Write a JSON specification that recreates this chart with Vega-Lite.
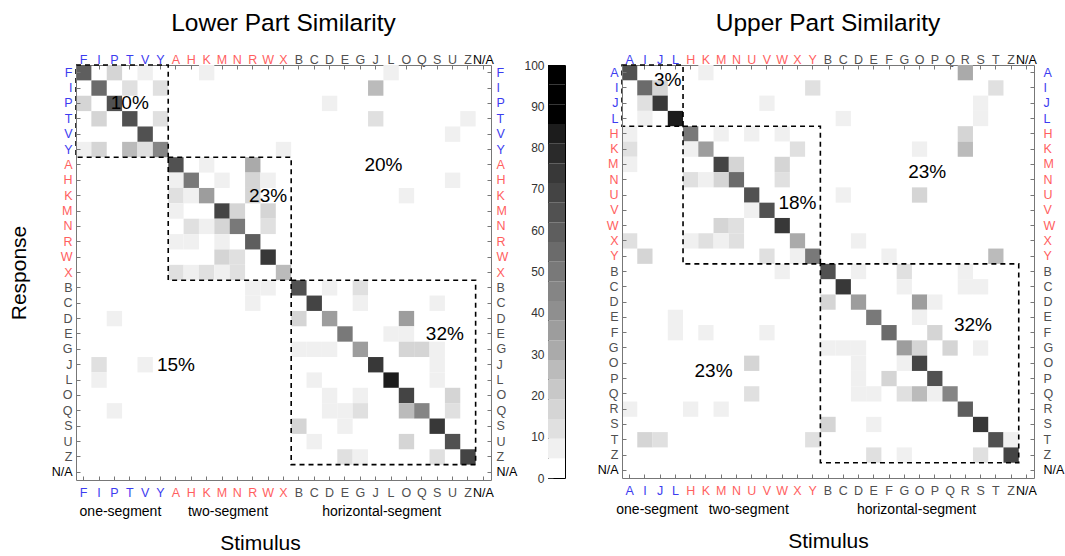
{
"$schema": "https://vega.github.io/schema/vega-lite/v6.json",
"padding": {"left": 8, "top": 10, "right": 4, "bottom": 0},
"spacing": 57,
"bounds": "flush",
"config": {
  "font": "Liberation Sans",
  "view": {"stroke": null},
  "axis": {"domainColor": "#777", "tickColor": "#777", "tickSize": -4, "labelFontSize": 12.5, "labelPadding": 9, "labelAngle": 0, "labelOverlap": false, "grid": false, "titleFontWeight": "normal", "titleColor": "#000", "titleFontSize": 21, "labelFont": "Liberation Sans", "titleFont": "Liberation Sans"},
  "title": {"fontSize": 24.5, "fontWeight": "normal", "color": "#000", "offset": 17},
  "text": {"font": "Liberation Sans"}
},
"datasets": {
"lower": [
{"s":"F","r":"F","v":60},{"s":"P","r":"F","v":17},{"s":"V","r":"F","v":7},{"s":"K","r":"F","v":7},{"s":"L","r":"F","v":7},
{"s":"I","r":"I","v":57},{"s":"T","r":"I","v":12},{"s":"Y","r":"I","v":12},{"s":"J","r":"I","v":24},
{"s":"F","r":"P","v":17},{"s":"P","r":"P","v":64},{"s":"D","r":"P","v":7},
{"s":"I","r":"T","v":17},{"s":"T","r":"T","v":64},{"s":"Y","r":"T","v":10},{"s":"J","r":"T","v":12},{"s":"Z","r":"T","v":7},
{"s":"V","r":"V","v":62},{"s":"U","r":"V","v":7},
{"s":"F","r":"Y","v":7},{"s":"I","r":"Y","v":17},{"s":"T","r":"Y","v":24},{"s":"V","r":"Y","v":12},{"s":"Y","r":"Y","v":45},{"s":"X","r":"Y","v":7},
{"s":"A","r":"A","v":62},{"s":"K","r":"A","v":7},{"s":"R","r":"A","v":30},
{"s":"A","r":"H","v":7},{"s":"H","r":"H","v":48},{"s":"M","r":"H","v":7},{"s":"R","r":"H","v":17},{"s":"W","r":"H","v":7},{"s":"U","r":"H","v":7},
{"s":"A","r":"K","v":12},{"s":"H","r":"K","v":7},{"s":"K","r":"K","v":38},{"s":"R","r":"K","v":17},{"s":"O","r":"K","v":7},
{"s":"A","r":"M","v":7},{"s":"M","r":"M","v":68},{"s":"N","r":"M","v":17},{"s":"W","r":"M","v":17},
{"s":"H","r":"N","v":12},{"s":"K","r":"N","v":7},{"s":"M","r":"N","v":17},{"s":"N","r":"N","v":52},{"s":"W","r":"N","v":12},
{"s":"A","r":"R","v":7},{"s":"H","r":"R","v":7},{"s":"M","r":"R","v":7},{"s":"R","r":"R","v":58},
{"s":"M","r":"W","v":17},{"s":"N","r":"W","v":10},{"s":"W","r":"W","v":74},
{"s":"A","r":"X","v":12},{"s":"H","r":"X","v":7},{"s":"K","r":"X","v":12},{"s":"M","r":"X","v":7},{"s":"N","r":"X","v":12},{"s":"X","r":"X","v":27},
{"s":"B","r":"B","v":62},{"s":"D","r":"B","v":7},{"s":"G","r":"B","v":12},{"s":"R","r":"B","v":7},{"s":"W","r":"B","v":7},
{"s":"C","r":"C","v":68},{"s":"G","r":"C","v":7},{"s":"S","r":"C","v":7},{"s":"R","r":"C","v":7},
{"s":"B","r":"D","v":17},{"s":"D","r":"D","v":35},{"s":"O","r":"D","v":38},{"s":"P","r":"D","v":7},
{"s":"E","r":"E","v":50},{"s":"L","r":"E","v":7},{"s":"O","r":"E","v":7},
{"s":"B","r":"G","v":7},{"s":"C","r":"G","v":7},{"s":"D","r":"G","v":7},{"s":"G","r":"G","v":38},{"s":"O","r":"G","v":17},{"s":"Q","r":"G","v":17},{"s":"S","r":"G","v":7},
{"s":"J","r":"J","v":74},{"s":"S","r":"J","v":7},{"s":"I","r":"J","v":12},{"s":"V","r":"J","v":7},
{"s":"C","r":"L","v":7},{"s":"L","r":"L","v":85},{"s":"S","r":"L","v":7},{"s":"I","r":"L","v":7},
{"s":"D","r":"O","v":7},{"s":"G","r":"O","v":7},{"s":"O","r":"O","v":68},{"s":"U","r":"O","v":17},
{"s":"D","r":"Q","v":7},{"s":"E","r":"Q","v":7},{"s":"G","r":"Q","v":12},{"s":"O","r":"Q","v":24},{"s":"Q","r":"Q","v":45},{"s":"U","r":"Q","v":12},{"s":"P","r":"Q","v":7},
{"s":"B","r":"S","v":17},{"s":"E","r":"S","v":7},{"s":"S","r":"S","v":74},
{"s":"C","r":"U","v":7},{"s":"O","r":"U","v":17},{"s":"U","r":"U","v":62},
{"s":"E","r":"Z","v":12},{"s":"G","r":"Z","v":7},{"s":"S","r":"Z","v":12},{"s":"Z","r":"Z","v":68}
],
"upper": [
{"s":"A","r":"A","v":62},{"s":"K","r":"A","v":7},{"s":"R","r":"A","v":30},
{"s":"I","r":"I","v":57},{"s":"J","r":"I","v":17},{"s":"Y","r":"I","v":12},{"s":"T","r":"I","v":12},
{"s":"I","r":"J","v":12},{"s":"J","r":"J","v":74},{"s":"V","r":"J","v":7},{"s":"S","r":"J","v":7},
{"s":"I","r":"L","v":7},{"s":"L","r":"L","v":85},{"s":"C","r":"L","v":7},{"s":"S","r":"L","v":7},
{"s":"A","r":"H","v":7},{"s":"H","r":"H","v":50},{"s":"M","r":"H","v":7},{"s":"U","r":"H","v":7},{"s":"W","r":"H","v":7},{"s":"R","r":"H","v":17},
{"s":"A","r":"K","v":12},{"s":"H","r":"K","v":7},{"s":"K","r":"K","v":38},{"s":"X","r":"K","v":12},{"s":"O","r":"K","v":7},{"s":"R","r":"K","v":24},
{"s":"A","r":"M","v":7},{"s":"M","r":"M","v":68},{"s":"N","r":"M","v":17},{"s":"W","r":"M","v":17},
{"s":"H","r":"N","v":12},{"s":"K","r":"N","v":7},{"s":"M","r":"N","v":17},{"s":"N","r":"N","v":55},{"s":"W","r":"N","v":12},
{"s":"U","r":"U","v":62},{"s":"C","r":"U","v":7},{"s":"O","r":"U","v":17},
{"s":"U","r":"V","v":7},{"s":"V","r":"V","v":62},
{"s":"M","r":"W","v":17},{"s":"N","r":"W","v":12},{"s":"W","r":"W","v":74},
{"s":"A","r":"X","v":12},{"s":"H","r":"X","v":7},{"s":"K","r":"X","v":12},{"s":"M","r":"X","v":7},{"s":"N","r":"X","v":12},{"s":"X","r":"X","v":30},{"s":"D","r":"X","v":7},
{"s":"I","r":"Y","v":17},{"s":"V","r":"Y","v":12},{"s":"X","r":"Y","v":7},{"s":"Y","r":"Y","v":50},{"s":"F","r":"Y","v":7},{"s":"T","r":"Y","v":24},
{"s":"B","r":"B","v":62},{"s":"D","r":"B","v":7},{"s":"G","r":"B","v":12},{"s":"R","r":"B","v":7},{"s":"W","r":"B","v":7},
{"s":"C","r":"C","v":74},{"s":"G","r":"C","v":7},{"s":"R","r":"C","v":7},{"s":"S","r":"C","v":7},
{"s":"B","r":"D","v":17},{"s":"D","r":"D","v":38},{"s":"O","r":"D","v":38},{"s":"P","r":"D","v":7},
{"s":"E","r":"E","v":50},{"s":"O","r":"E","v":7},{"s":"L","r":"E","v":7},
{"s":"F","r":"F","v":55},{"s":"P","r":"F","v":17},{"s":"L","r":"F","v":7},{"s":"K","r":"F","v":7},{"s":"V","r":"F","v":7},
{"s":"B","r":"G","v":7},{"s":"C","r":"G","v":7},{"s":"D","r":"G","v":7},{"s":"G","r":"G","v":38},{"s":"O","r":"G","v":17},{"s":"Q","r":"G","v":17},{"s":"S","r":"G","v":7},
{"s":"D","r":"O","v":7},{"s":"G","r":"O","v":7},{"s":"O","r":"O","v":68},{"s":"U","r":"O","v":17},
{"s":"D","r":"P","v":7},{"s":"F","r":"P","v":17},{"s":"P","r":"P","v":64},
{"s":"D","r":"Q","v":7},{"s":"E","r":"Q","v":7},{"s":"G","r":"Q","v":12},{"s":"O","r":"Q","v":24},{"s":"P","r":"Q","v":7},{"s":"Q","r":"Q","v":45},{"s":"U","r":"Q","v":12},
{"s":"R","r":"R","v":58},{"s":"A","r":"R","v":7},{"s":"H","r":"R","v":7},{"s":"M","r":"R","v":7},
{"s":"B","r":"S","v":17},{"s":"E","r":"S","v":7},{"s":"S","r":"S","v":74},
{"s":"Y","r":"T","v":12},{"s":"T","r":"T","v":62},{"s":"Z","r":"T","v":7},{"s":"I","r":"T","v":17},{"s":"J","r":"T","v":12},
{"s":"E","r":"Z","v":12},{"s":"G","r":"Z","v":7},{"s":"S","r":"Z","v":12},{"s":"Z","r":"Z","v":68}
],
"bar": [
{"lo":0,"hi":4.76,"v":2.38},{"lo":4.76,"hi":9.52,"v":7.14},{"lo":9.52,"hi":14.29,"v":11.9},{"lo":14.29,"hi":19.05,"v":16.67},{"lo":19.05,"hi":23.81,"v":21.43},{"lo":23.81,"hi":28.57,"v":26.19},{"lo":28.57,"hi":33.33,"v":30.95},{"lo":33.33,"hi":38.1,"v":35.71},{"lo":38.1,"hi":42.86,"v":40.48},{"lo":42.86,"hi":47.62,"v":45.24},{"lo":47.62,"hi":52.38,"v":50},{"lo":52.38,"hi":57.14,"v":54.76},{"lo":57.14,"hi":61.9,"v":59.52},{"lo":61.9,"hi":66.67,"v":64.29},{"lo":66.67,"hi":71.43,"v":69.05},{"lo":71.43,"hi":76.19,"v":73.81},{"lo":76.19,"hi":80.95,"v":78.57},{"lo":80.95,"hi":85.71,"v":83.33},{"lo":85.71,"hi":90.48,"v":88.1},{"lo":90.48,"hi":95.24,"v":92.86},{"lo":95.24,"hi":100,"v":97.62}
],
"lowerBoxes": [{"x1":"F","x2":"A","y1":"F","y2":"A"},{"x1":"A","x2":"B","y1":"A","y2":"B"},{"x1":"B","x2":"N/A","y1":"B","y2":"N/A"}],
"upperBoxes": [{"x1":"A","x2":"H","y1":"A","y2":"H"},{"x1":"H","x2":"B","y1":"H","y2":"B"},{"x1":"B","x2":"N/A","y1":"B","y2":"N/A"}],
"lowerTextA": [{"x":"T","y":"P","t":"10%"},{"x":"W","y":"K","t":"23%"},{"x":"A","y":"J","t":"15%"}],
"lowerTextB": [{"x":"L","y":"A","t":"20%"},{"x":"U","y":"E","t":"32%"}],
"upperTextA": [{"x":"L","y":"I","t":"3%"},{"x":"P","y":"N","t":"23%"},{"x":"S","y":"F","t":"32%"},{"x":"M","y":"P","t":"23%"}],
"upperTextB": [{"x":"X","y":"V","t":"18%"}]
},
"hconcat": [
{
  "width": 415, "height": 415,
  "title": {"text": "Lower Part Similarity"},
  "resolve": {"axis": {"x": "independent", "y": "independent"}},
  "layer": [
    {
      "data": {"name": "lower"},
      "mark": {"type": "rect"},
      "encoding": {
        "x": {"field": "s", "type": "nominal", "scale": {"type": "band", "domain": ["F","I","P","T","V","Y","A","H","K","M","N","R","W","X","B","C","D","E","G","J","L","O","Q","S","U","Z","N/A"], "paddingInner": 0, "paddingOuter": 0},
              "axis": {"orient": "bottom", "title": null, "labelPadding": 10, "labelColor": {"expr": "indexof(['F','I','P','T','V','Y'], datum.value) >= 0 ? '#3c3cf0' : indexof(['A','H','K','M','N','R','W','X'], datum.value) >= 0 ? '#ff5f5f' : datum.value == 'N/A' ? '#000000' : '#505050'"}}},
        "y": {"field": "r", "type": "nominal", "scale": {"type": "band", "domain": ["F","I","P","T","V","Y","A","H","K","M","N","R","W","X","B","C","D","E","G","J","L","O","Q","S","U","Z","N/A"], "paddingInner": 0, "paddingOuter": 0},
              "axis": {"orient": "left", "title": "Response", "titlePadding": 22, "labelPadding": 8, "labelColor": {"expr": "indexof(['F','I','P','T','V','Y'], datum.value) >= 0 ? '#3c3cf0' : indexof(['A','H','K','M','N','R','W','X'], datum.value) >= 0 ? '#ff5f5f' : datum.value == 'N/A' ? '#000000' : '#505050'"}}},
        "color": {"field": "v", "type": "quantitative", "legend": null, "scale": {"type": "quantize", "domain": [0, 100], "nice": false, "range": ["#ffffff","#f0f0f0","#e0e0e0","#d5d5d5","#c8c8c8","#bbbbbb","#aaaaaa","#9d9d9d","#8f8f8f","#858585","#797979","#6b6b6b","#5e5e5e","#515151","#444444","#383838","#2a2a2a","#1c1c1c","#000000","#000000","#000000"]}}
      }
    },
    {
      "data": {"name": "lowerTextA"},
      "mark": {"type": "text", "fontSize": 19, "color": "#000"},
      "encoding": {
        "x": {"field": "x", "type": "nominal", "scale": {"type": "band"},
              "axis": {"orient": "top", "title": null, "labelPadding": 3, "labelColor": {"expr": "indexof(['F','I','P','T','V','Y'], datum.value) >= 0 ? '#3c3cf0' : indexof(['A','H','K','M','N','R','W','X'], datum.value) >= 0 ? '#ff5f5f' : datum.value == 'N/A' ? '#000000' : '#505050'"}}},
        "y": {"field": "y", "type": "nominal", "scale": {"type": "band"},
              "axis": {"orient": "right", "title": null, "labelPadding": 9, "labelColor": {"expr": "indexof(['F','I','P','T','V','Y'], datum.value) >= 0 ? '#3c3cf0' : indexof(['A','H','K','M','N','R','W','X'], datum.value) >= 0 ? '#ff5f5f' : datum.value == 'N/A' ? '#000000' : '#505050'"}}},
        "text": {"field": "t"}
      }
    },
    {
      "data": {"name": "lowerTextB"},
      "mark": {"type": "text", "fontSize": 19, "color": "#000"},
      "encoding": {
        "x": {"field": "x", "type": "nominal", "bandPosition": 0, "scale": {"type": "band"}, "axis": null},
        "y": {"field": "y", "type": "nominal", "scale": {"type": "band"}, "axis": null},
        "text": {"field": "t"}
      }
    },
    {
      "data": {"name": "lowerBoxes"},
      "mark": {"type": "rect", "fillOpacity": 0, "stroke": "#000", "strokeWidth": 1.6, "strokeDash": [5, 4]},
      "encoding": {
        "x": {"field": "x1", "type": "nominal", "bandPosition": 0, "scale": {"type": "band"},
              "axis": {"orient": "bottom", "values": ["P","M","J"], "labelOffset": 6, "domain": false, "ticks": false, "labelPadding": 24, "labelFontSize": 14, "labelColor": "#000", "labelExpr": "datum.value == 'P' ? 'one-segment' : datum.value == 'M' ? 'two-segment' : 'horizontal-segment'", "title": "Stimulus", "titlePadding": 14, "titleX": 184}},
        "x2": {"field": "x2", "bandPosition": 0},
        "y": {"field": "y1", "type": "nominal", "bandPosition": 0, "scale": {"type": "band"}, "axis": null},
        "y2": {"field": "y2", "bandPosition": 0}
      }
    }
  ]
},
{
  "width": 17, "height": 413,
  "view": {"stroke": "#000", "strokeWidth": 1},
  "data": {"name": "bar"},
  "mark": {"type": "rect"},
  "encoding": {
    "y": {"field": "lo", "type": "quantitative", "scale": {"domain": [0, 100], "nice": false},
          "axis": {"title": null, "values": [0,10,20,30,40,50,60,70,80,90,100], "domain": false, "tickSize": -5, "tickColor": "#333", "labelColor": "#333", "labelFontSize": 12, "labelPadding": 9}},
    "y2": {"field": "hi"},
    "color": {"field": "v", "type": "quantitative", "legend": null, "scale": {"type": "quantize", "domain": [0, 100], "nice": false, "range": ["#ffffff","#f0f0f0","#e0e0e0","#d5d5d5","#c8c8c8","#bbbbbb","#aaaaaa","#9d9d9d","#8f8f8f","#858585","#797979","#6b6b6b","#5e5e5e","#515151","#444444","#383838","#2a2a2a","#1c1c1c","#000000","#000000","#000000"]}}
  }
},
{
  "width": 412, "height": 413,
  "title": {"text": "Upper Part Similarity"},
  "resolve": {"axis": {"x": "independent", "y": "independent"}},
  "layer": [
    {
      "data": {"name": "upper"},
      "mark": {"type": "rect"},
      "encoding": {
        "x": {"field": "s", "type": "nominal", "scale": {"type": "band", "domain": ["A","I","J","L","H","K","M","N","U","V","W","X","Y","B","C","D","E","F","G","O","P","Q","R","S","T","Z","N/A"], "paddingInner": 0, "paddingOuter": 0},
              "axis": {"orient": "bottom", "title": null, "labelPadding": 10, "labelColor": {"expr": "indexof(['A','I','J','L'], datum.value) >= 0 ? '#3c3cf0' : indexof(['H','K','M','N','U','V','W','X','Y'], datum.value) >= 0 ? '#ff5f5f' : datum.value == 'N/A' ? '#000000' : '#505050'"}}},
        "y": {"field": "r", "type": "nominal", "scale": {"type": "band", "domain": ["A","I","J","L","H","K","M","N","U","V","W","X","Y","B","C","D","E","F","G","O","P","Q","R","S","T","Z","N/A"], "paddingInner": 0, "paddingOuter": 0},
              "axis": {"orient": "left", "title": null, "labelPadding": 8, "labelColor": {"expr": "indexof(['A','I','J','L'], datum.value) >= 0 ? '#3c3cf0' : indexof(['H','K','M','N','U','V','W','X','Y'], datum.value) >= 0 ? '#ff5f5f' : datum.value == 'N/A' ? '#000000' : '#505050'"}}},
        "color": {"field": "v", "type": "quantitative", "legend": null, "scale": {"type": "quantize", "domain": [0, 100], "nice": false, "range": ["#ffffff","#f0f0f0","#e0e0e0","#d5d5d5","#c8c8c8","#bbbbbb","#aaaaaa","#9d9d9d","#8f8f8f","#858585","#797979","#6b6b6b","#5e5e5e","#515151","#444444","#383838","#2a2a2a","#1c1c1c","#000000","#000000","#000000"]}}
      }
    },
    {
      "data": {"name": "upperTextA"},
      "mark": {"type": "text", "fontSize": 19, "color": "#000"},
      "encoding": {
        "x": {"field": "x", "type": "nominal", "bandPosition": 0, "scale": {"type": "band"},
              "axis": {"orient": "top", "title": null, "labelPadding": 3, "labelColor": {"expr": "indexof(['A','I','J','L'], datum.value) >= 0 ? '#3c3cf0' : indexof(['H','K','M','N','U','V','W','X','Y'], datum.value) >= 0 ? '#ff5f5f' : datum.value == 'N/A' ? '#000000' : '#505050'"}}},
        "y": {"field": "y", "type": "nominal", "bandPosition": 0, "scale": {"type": "band"},
              "axis": {"orient": "right", "title": null, "labelPadding": 13, "labelColor": {"expr": "indexof(['A','I','J','L'], datum.value) >= 0 ? '#3c3cf0' : indexof(['H','K','M','N','U','V','W','X','Y'], datum.value) >= 0 ? '#ff5f5f' : datum.value == 'N/A' ? '#000000' : '#505050'"}}},
        "text": {"field": "t"}
      }
    },
    {
      "data": {"name": "upperTextB"},
      "mark": {"type": "text", "fontSize": 19, "color": "#000"},
      "encoding": {
        "x": {"field": "x", "type": "nominal", "scale": {"type": "band"}, "axis": null},
        "y": {"field": "y", "type": "nominal", "bandPosition": 0, "scale": {"type": "band"}, "axis": null},
        "text": {"field": "t"}
      }
    },
    {
      "data": {"name": "upperBoxes"},
      "mark": {"type": "rect", "fillOpacity": 0, "stroke": "#000", "strokeWidth": 1.6, "strokeDash": [5, 4]},
      "encoding": {
        "x": {"field": "x1", "type": "nominal", "bandPosition": 0, "scale": {"type": "band"},
              "axis": {"orient": "bottom", "values": ["J","U","O"], "labelOffset": -3, "domain": false, "ticks": false, "labelPadding": 24, "labelFontSize": 14, "labelColor": "#000", "labelExpr": "datum.value == 'J' ? 'one-segment' : datum.value == 'U' ? 'two-segment' : 'horizontal-segment'", "title": "Stimulus", "titlePadding": 14}},
        "x2": {"field": "x2", "bandPosition": 0},
        "y": {"field": "y1", "type": "nominal", "bandPosition": 0, "scale": {"type": "band"}, "axis": null},
        "y2": {"field": "y2", "bandPosition": 0}
      }
    }
  ]
}
]
}
